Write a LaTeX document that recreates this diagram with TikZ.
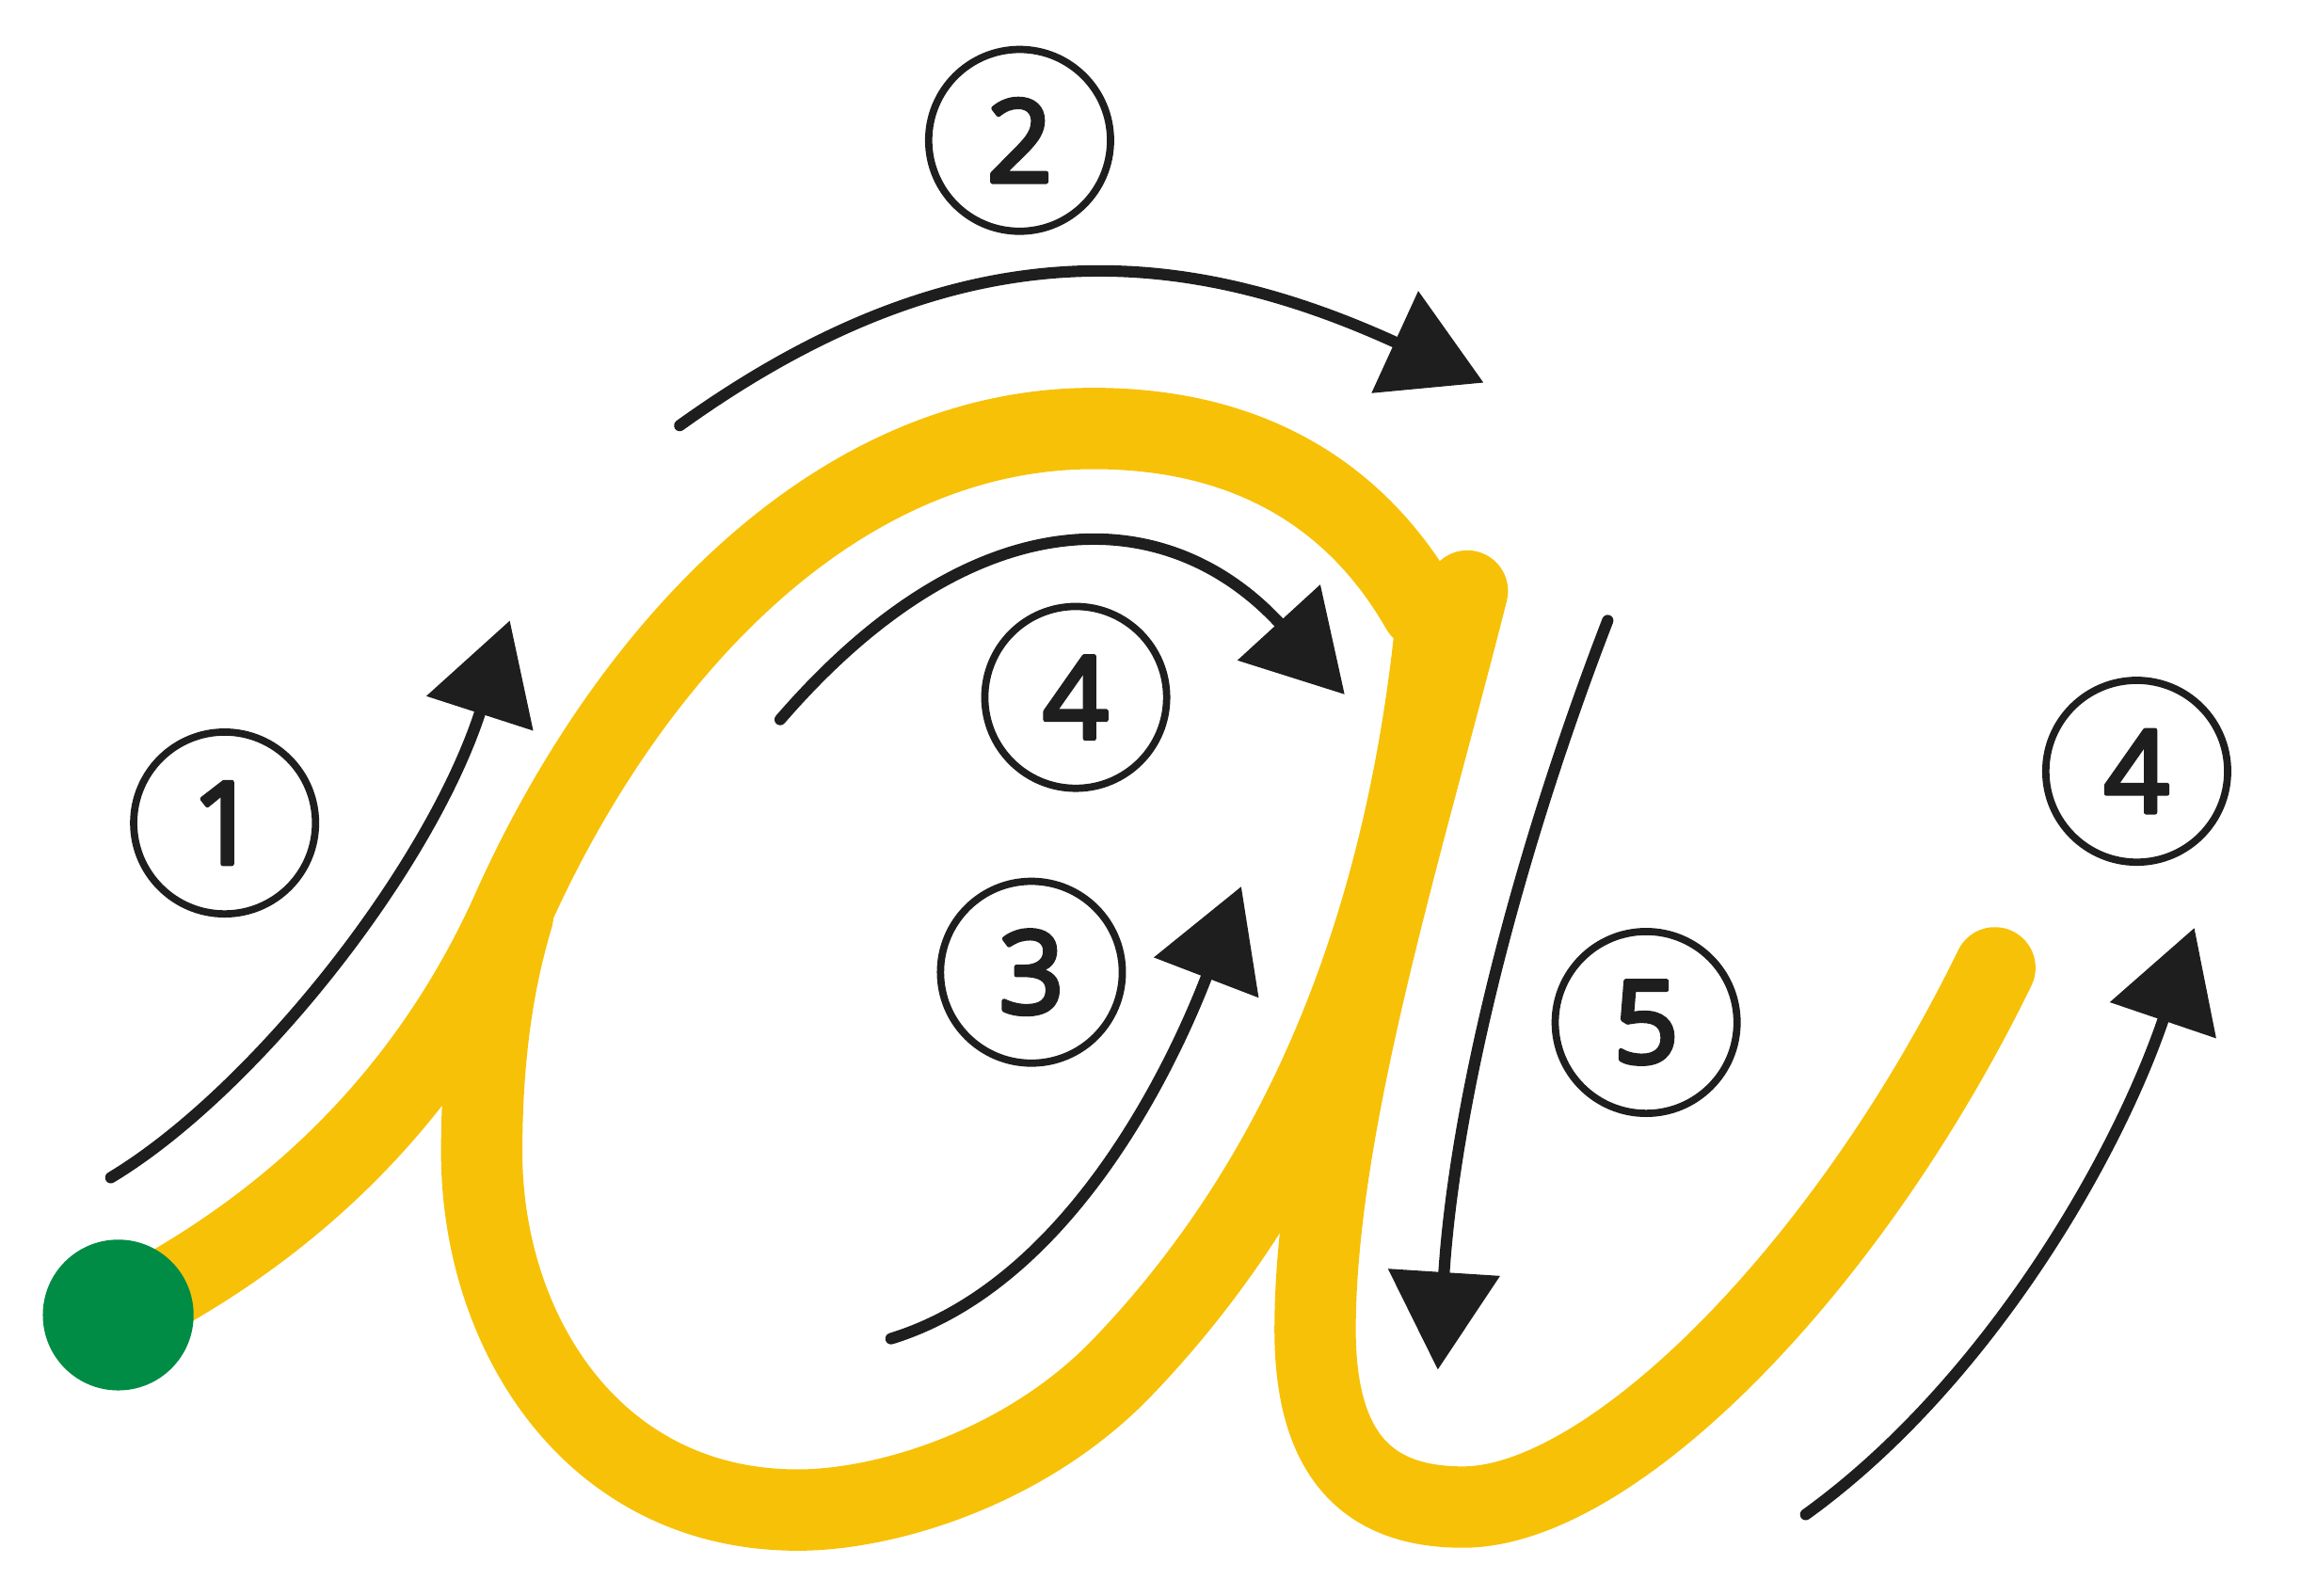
\documentclass[tikz,border=0pt]{standalone}
\usepackage{fontspec}
\newfontfamily\numfont{Open Sans}[FakeBold=4]
\usetikzlibrary{arrows.meta}

\definecolor{strokeyellow}{RGB}{247,193,7}
\definecolor{startgreen}{RGB}{0,140,69}
\definecolor{ink}{RGB}{30,30,30}

\begin{document}
\begin{tikzpicture}[%
    x=0.01cm, y=-0.01cm,            % one unit per pixel of the sketch, y going down
    line cap=round, line join=round,
    ]
% -------------------------------------------------
% A few styles
\tikzset{
  letter/.style={draw=strokeyellow, line width=0.55cm},
  dot/.style={circle, fill=startgreen, minimum size=1.02cm, inner sep=0pt},
  num/.style={draw=ink, circle, line width=1.4pt, minimum size=1.23cm, inner sep=0pt,
    text=ink, font=\numfont\fontsize{22}{22}\selectfont},
  % Connector line style for the stroke arrows
  go/.style={-{Triangle[length=0.66cm, width=0.74cm]}, draw=ink, line width=2.2pt},
}
\useasboundingbox (0,0) rectangle (1568,1080);
% -------------------------------------------------
% The letter itself

% up from the start and over the top
\draw[letter] (80,890) .. controls (200,830) and (290,740) .. (345,620)
  .. controls (420,450) and (560,290) .. (740,290)
  .. controls (845,290) and (918,335) .. (962,412);
% down the right side of the bowl and back up its left side
\draw[letter] (972,420) .. controls (950,640) and (875,805) .. (760,925)
  .. controls (695,993) and (600,1022) .. (540,1022)
  .. controls (400,1022) and (326,900) .. (326,780)
  .. controls (326,710) and (335,660) .. (347,620);
% stem and tail
\draw[letter] (993,400) .. controls (950,570) and (890,760) .. (890,900)
  .. controls (890,990) and (930,1020) .. (990,1020)
  .. controls (1090,1020) and (1250,860) .. (1350,655);

\node[dot] (g) at (80,890) {};

% -------------------------------------------------
% Numbers
\node[num] (n1) at (152,557) {1};
\node[num] (n2) at (690,95) {2};
\node[num] (n3) at (698,658) {3};
\node[num] (n4) at (728,472) {4};
\node[num] (n5) at (1114,692) {5};
\node[num] (n6) at (1446,522) {4};

% -------------------------------------------------
% Arrows, start and tip
\coordinate (s1) at (75,797);    \coordinate (t1) at (345,420);
\coordinate (s2) at (460,288);   \coordinate (t2) at (1004,259);
\coordinate (s3) at (603,906);   \coordinate (t3) at (840,600);
\coordinate (s4) at (528,487);   \coordinate (t4) at (910,470);
\coordinate (s5) at (1088,420);  \coordinate (t5) at (973,927);
\coordinate (s6) at (1222,1025); \coordinate (t6) at (1485,628);

\draw[go] (s1) .. controls (170,740) and (290,590) .. (t1);     %1, up the left
\draw[go] (s2) .. controls (641,158) and (790,161) .. (t2);     %2, over the top
\draw[go] (s3) .. controls (720,870) and (790,730) .. (t3);     %3, up the bowl
\draw[go] (s4) .. controls (662,332) and (792,341) .. (t4);     %4, inside the top
\draw[go] (s5) .. controls (1030,570) and (985,740) .. (t5);    %5, down the stem
\draw[go] (s6) .. controls (1340,940) and (1430,790) .. (t6);   %4, up the tail

% -------------------------------------------------
\end{tikzpicture}
\end{document}
